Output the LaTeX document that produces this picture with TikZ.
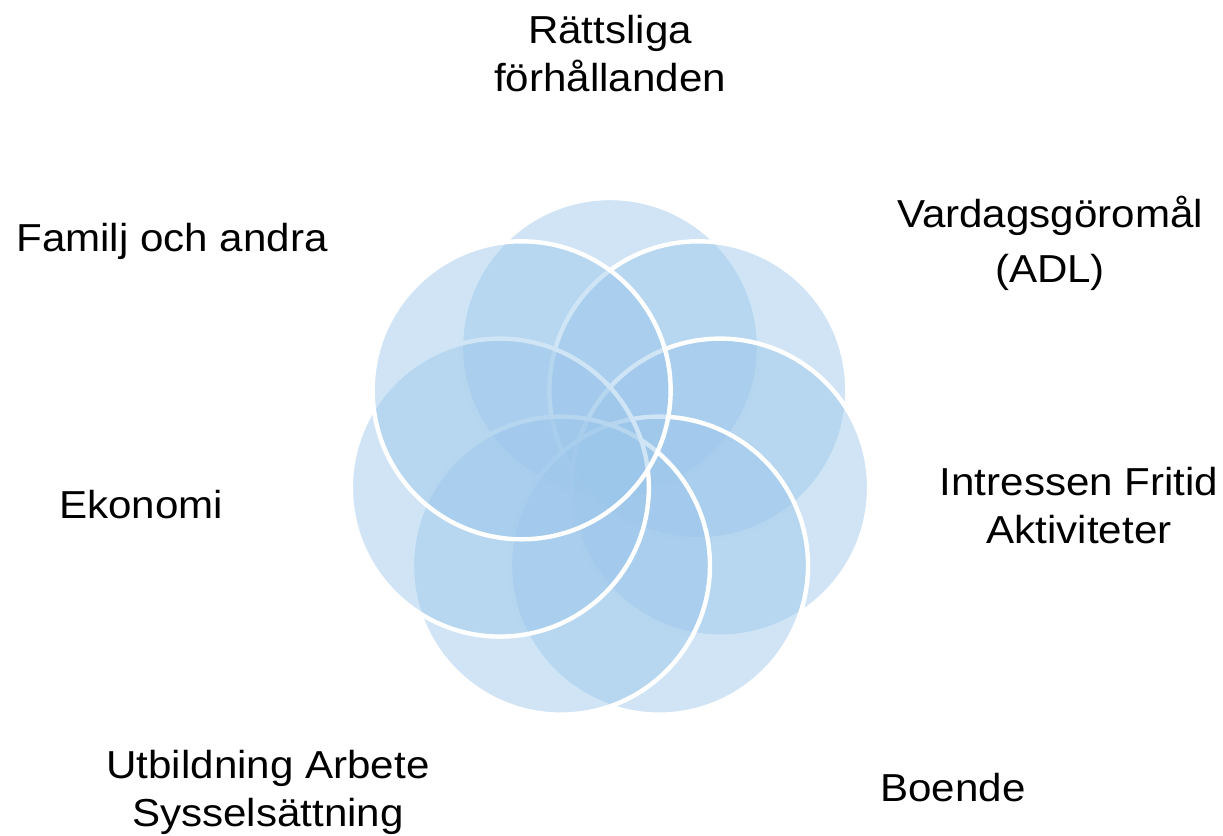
\documentclass[tikz,border=0pt]{standalone}
\usepackage{fontspec}
\setmainfont[FakeStretch=1.08]{Liberation Sans}
\usetikzlibrary{calc}
\definecolor{blobfill}{RGB}{155,198,234}
\tikzset{
  blob/.style={circle, minimum size=149pt, inner sep=0pt, outer sep=0pt,
    fill=blobfill, fill opacity=0.47, draw=white, draw opacity=1, line width=2.2pt},
  lab/.style={anchor=base, align=center, inner sep=0pt, text=black,
    font=\fontsize{19.5pt}{24pt}\selectfont}
}
\begin{document}
\begin{tikzpicture}[x=0.5pt,y=0.5pt]
\useasboundingbox (0,0) rectangle (1223,-836);
\coordinate (O) at (610,-462);
\node[blob] (c1) at ($(O)+({113*cos(90)},{115*sin(90)})$) {};
\node[blob] (c2) at ($(O)+({113*cos(38.571)},{115*sin(38.571)})$) {};
\node[blob] (c3) at ($(O)+({113*cos(-12.857)},{115*sin(-12.857)})$) {};
\node[blob] (c4) at ($(O)+({113*cos(-64.286)},{115*sin(-64.286)})$) {};
\node[blob] (c5) at ($(O)+({113*cos(-115.714)},{115*sin(-115.714)})$) {};
\node[blob] (c6) at ($(O)+({113*cos(-167.143)},{115*sin(-167.143)})$) {};
\node[blob] (c7) at ($(O)+({113*cos(141.429)},{115*sin(141.429)})$) {};
\node[lab] (t1) at (610,-91) {Rättsliga\\förhållanden};
\node[lab] (t2) at (1050,-282) {Vardagsgöromål\\[3.5pt](ADL)};
\node[lab] (t3) at (1079,-543) {Intressen Fritid\\Aktiviteter};
\node[lab] (t4) at (953,-801) {Boende};
\node[lab] (t5) at (268,-826) {Utbildning Arbete\\Sysselsättning};
\node[lab] (t6) at (141,-518) {Ekonomi};
\node[lab] (t7) at (172,-251) {Familj och andra};
\end{tikzpicture}
\end{document}
